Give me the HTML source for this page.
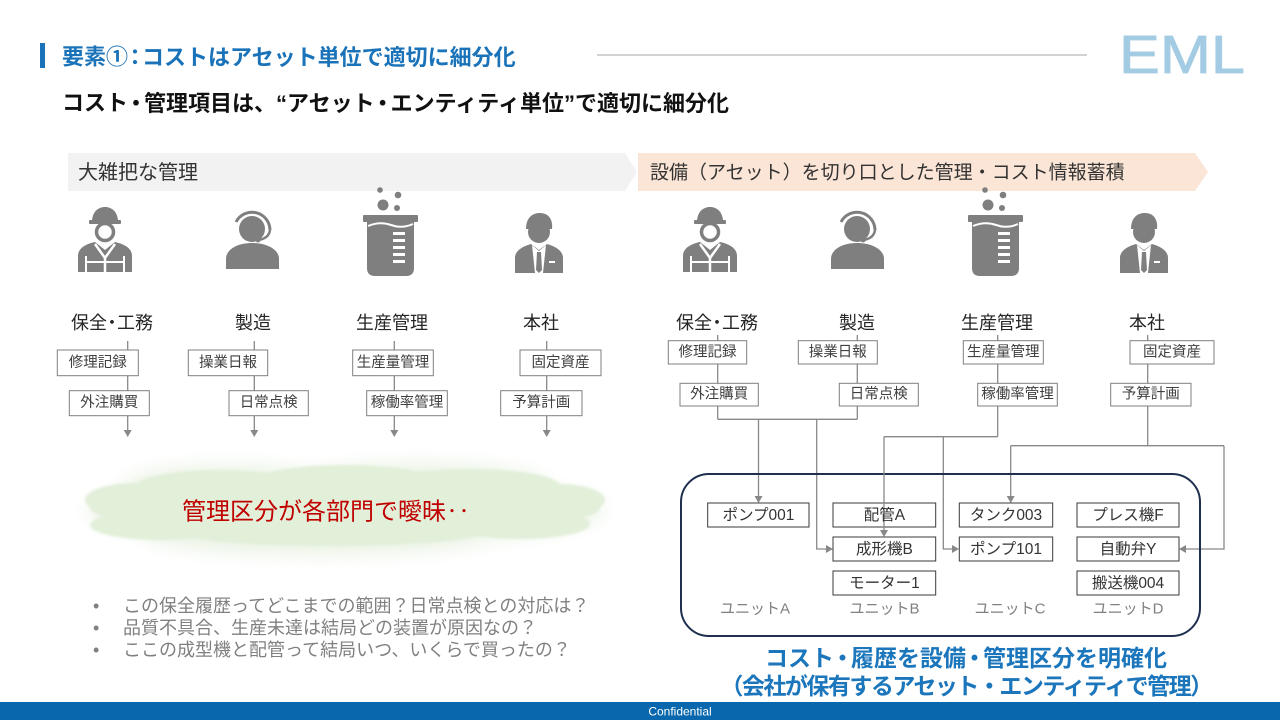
<!DOCTYPE html>
<html><head><meta charset="utf-8">
<style>
html,body{margin:0;padding:0;background:#fff;}
svg{display:block;}
text{font-family:"Liberation Sans","Noto Sans CJK JP",sans-serif;}
</style></head>
<body>
<svg width="1280" height="720" viewBox="0 0 1280 720" xmlns="http://www.w3.org/2000/svg">
<defs>
  <filter id="glow" x="-20%" y="-60%" width="140%" height="220%"><feGaussianBlur stdDeviation="9"/></filter>
  <filter id="soft" x="-10%" y="-30%" width="120%" height="160%"><feGaussianBlur stdDeviation="1.2"/></filter>
</defs>

<!-- Title -->
<rect x="40" y="43" width="5" height="25" fill="#1a73b9"/>
<text x="62" y="57" dominant-baseline="central" font-size="22" font-weight="bold" fill="#1a73b9">要素①<tspan dx="-4">：</tspan><tspan dx="-4">コストはアセット単位で適切に細分化</tspan></text>
<line x1="597" y1="55" x2="1087" y2="55" stroke="#a6a6a6" stroke-width="1"/>
<text x="1119" y="73" font-size="54" fill="#a3cbe3" stroke="#a3cbe3" stroke-width="0.8" textLength="126" lengthAdjust="spacingAndGlyphs">EML</text>
<text x="62" y="103" dominant-baseline="central" font-size="22" font-weight="bold" fill="#111">コスト<tspan dx="-3">・</tspan><tspan dx="-3">管理項目は、“アセット</tspan><tspan dx="-3">・</tspan><tspan dx="-3">エンティティ単位”で適切に細分化</tspan></text>

<!-- Banners -->
<polygon points="68,153 625,153 637,172 625,191 68,191" fill="#f2f2f2"/>
<text x="78" y="173" dominant-baseline="central" font-size="20" fill="#333">大雑把な管理</text>
<polygon points="638,153 1195,153 1208,172 1195,191 638,191" fill="#fbe5d6"/>
<text x="650" y="173" dominant-baseline="central" font-size="19" fill="#333">設備（アセット）を切り口とした管理・コスト情報蓄積</text>

<!-- Icons left -->
<g fill="#7f7f7f">
  <path d="M92,222 C92,212 98,207 105,207 C112,207 118,212 118,222 Z"/>
  <rect x="89" y="220" width="32" height="4" rx="1"/>
  <circle cx="105" cy="232" r="8.5" fill="#fff" stroke="#7f7f7f" stroke-width="3.5"/>
  <path d="M78,272 V256 C78,248 86,244 95,242 L105,250 L115,242 C124,244 132,248 132,256 V272 Z"/>
  <path d="M95,244 L105,258 L115,244" fill="none" stroke="#fff" stroke-width="2.5"/>
  <line x1="105" y1="258" x2="105" y2="272" stroke="#fff" stroke-width="2.5"/>
  <line x1="86" y1="262" x2="124" y2="262" stroke="#fff" stroke-width="2"/>
  <line x1="86" y1="256" x2="86" y2="272" stroke="#fff" stroke-width="2"/>
  <line x1="124" y1="256" x2="124" y2="272" stroke="#fff" stroke-width="2"/>
  <circle cx="252" cy="229" r="13"/>
  <path d="M236,222 A18,18 0 0 1 270,230" fill="none" stroke="#7f7f7f" stroke-width="3"/>
  <path d="M270,230 Q269,238 259,240" fill="none" stroke="#7f7f7f" stroke-width="2.5"/>
  <circle cx="258" cy="240" r="2.5"/>
  <path d="M226,269 V259 C226,249 238,243 252,243 C266,243 279,249 279,259 V269 Z"/>
  <circle cx="380" cy="190" r="2.8"/>
  <circle cx="398" cy="195" r="3.3"/>
  <circle cx="383" cy="205" r="5.5"/>
  <circle cx="397" cy="208" r="3"/>
  <rect x="363" y="215" width="55" height="7" rx="1"/>
  <path d="M367,221 H414 V268 Q414,276 406,276 H375 Q367,276 367,268 Z"/>
  <path d="M368,226 Q380,221 391,225 T413,224" fill="none" stroke="#fff" stroke-width="2"/>
  <g fill="#fff">
    <rect x="393" y="232" width="12" height="3"/>
    <rect x="393" y="239" width="12" height="3"/>
    <rect x="393" y="246" width="12" height="3"/>
    <rect x="393" y="253" width="12" height="3"/>
    <rect x="393" y="260" width="12" height="3"/>
  </g>
  <path d="M526,229 C526,218 532,213 540,213 C549,213 553,220 552,229 Z"/>
  <circle cx="539" cy="232" r="11"/>
  <path d="M515,273 V258 C515,250 524,246 531,244 L539,250 L547,244 C554,246 563,250 563,258 V273 Z"/>
  <path d="M532,245 L539,251 L546,245 L543,273 H535 Z" fill="#fff"/>
  <path d="M537,252 H541 L542,270 L539,273 L536,270 Z"/>
  <rect x="549" y="261" width="6" height="2" fill="#fff"/>
</g>
<!-- Icons right -->
<g fill="#7f7f7f" transform="translate(605,0)">
  <path d="M92,222 C92,212 98,207 105,207 C112,207 118,212 118,222 Z"/>
  <rect x="89" y="220" width="32" height="4" rx="1"/>
  <circle cx="105" cy="232" r="8.5" fill="#fff" stroke="#7f7f7f" stroke-width="3.5"/>
  <path d="M78,272 V256 C78,248 86,244 95,242 L105,250 L115,242 C124,244 132,248 132,256 V272 Z"/>
  <path d="M95,244 L105,258 L115,244" fill="none" stroke="#fff" stroke-width="2.5"/>
  <line x1="105" y1="258" x2="105" y2="272" stroke="#fff" stroke-width="2.5"/>
  <line x1="86" y1="262" x2="124" y2="262" stroke="#fff" stroke-width="2"/>
  <line x1="86" y1="256" x2="86" y2="272" stroke="#fff" stroke-width="2"/>
  <line x1="124" y1="256" x2="124" y2="272" stroke="#fff" stroke-width="2"/>
  <circle cx="252" cy="229" r="13"/>
  <path d="M236,222 A18,18 0 0 1 270,230" fill="none" stroke="#7f7f7f" stroke-width="3"/>
  <path d="M270,230 Q269,238 259,240" fill="none" stroke="#7f7f7f" stroke-width="2.5"/>
  <circle cx="258" cy="240" r="2.5"/>
  <path d="M226,269 V259 C226,249 238,243 252,243 C266,243 279,249 279,259 V269 Z"/>
  <circle cx="380" cy="190" r="2.8"/>
  <circle cx="398" cy="195" r="3.3"/>
  <circle cx="383" cy="205" r="5.5"/>
  <circle cx="397" cy="208" r="3"/>
  <rect x="363" y="215" width="55" height="7" rx="1"/>
  <path d="M367,221 H414 V268 Q414,276 406,276 H375 Q367,276 367,268 Z"/>
  <path d="M368,226 Q380,221 391,225 T413,224" fill="none" stroke="#fff" stroke-width="2"/>
  <g fill="#fff">
    <rect x="393" y="232" width="12" height="3"/>
    <rect x="393" y="239" width="12" height="3"/>
    <rect x="393" y="246" width="12" height="3"/>
    <rect x="393" y="253" width="12" height="3"/>
    <rect x="393" y="260" width="12" height="3"/>
  </g>
  <path d="M526,229 C526,218 532,213 540,213 C549,213 553,220 552,229 Z"/>
  <circle cx="539" cy="232" r="11"/>
  <path d="M515,273 V258 C515,250 524,246 531,244 L539,250 L547,244 C554,246 563,250 563,258 V273 Z"/>
  <path d="M532,245 L539,251 L546,245 L543,273 H535 Z" fill="#fff"/>
  <path d="M537,252 H541 L542,270 L539,273 L536,270 Z"/>
  <rect x="549" y="261" width="6" height="2" fill="#fff"/>
</g>

<!-- Department labels -->
<g font-size="18" fill="#262626" text-anchor="middle" dominant-baseline="central">
  <text x="112" y="323">保全<tspan dx="-4">・</tspan><tspan dx="-4">工務</tspan></text>
  <text x="253" y="323">製造</text>
  <text x="392" y="323">生産管理</text>
  <text x="541" y="323">本社</text>
  <text x="717" y="323">保全<tspan dx="-4">・</tspan><tspan dx="-4">工務</tspan></text>
  <text x="857" y="323">製造</text>
  <text x="997" y="323">生産管理</text>
  <text x="1147" y="323">本社</text>
</g>

<!-- Left connectors -->
<g stroke="#888" stroke-width="1.3" fill="none">
  <line x1="127.7" y1="341" x2="127.7" y2="431"/>
  <line x1="254.3" y1="341" x2="254.3" y2="431"/>
  <line x1="394.3" y1="341" x2="394.3" y2="431"/>
  <line x1="546.7" y1="341" x2="546.7" y2="431"/>
</g>
<g fill="#888">
  <polygon points="123.7,430 131.7,430 127.7,437"/>
  <polygon points="250.3,430 258.3,430 254.3,437"/>
  <polygon points="390.3,430 398.3,430 394.3,437"/>
  <polygon points="542.7,430 550.7,430 546.7,437"/>
</g>

<!-- Right connectors -->
<g stroke="#888" stroke-width="1.3" fill="none">
  <line x1="717.7" y1="335" x2="717.7" y2="419.3"/>
  <line x1="857.3" y1="335" x2="857.3" y2="419.3"/>
  <line x1="717.7" y1="419.3" x2="857.3" y2="419.3"/>
  <line x1="758.5" y1="419.3" x2="758.5" y2="497"/>
  <polyline points="816.7,419.3 816.7,549 827,549"/>
  <line x1="997.7" y1="335" x2="997.7" y2="436.7"/>
  <line x1="884" y1="436.7" x2="997.7" y2="436.7"/>
  <polyline points="943.3,436.7 943.3,549 953,549"/>
  <line x1="1147.7" y1="335" x2="1147.7" y2="445.7"/>
  <line x1="1010.7" y1="445.7" x2="1224" y2="445.7"/>
  <line x1="1010.7" y1="445.7" x2="1010.7" y2="497"/>
  <polyline points="1224,445.7 1224,549 1185,549"/>
</g>
<g fill="#888">
  <polygon points="754.5,496 762.5,496 758.5,503"/>
  <polygon points="826,545 826,553 833,549"/>
  <polygon points="952,545 952,553 959,549"/>
  <polygon points="1006.7,496 1014.7,496 1010.7,503"/>
  <polygon points="1186,545 1186,553 1179,549"/>
</g>

<!-- Top boxes -->
<g fill="#fff" stroke="#7f7f7f" stroke-width="1">
  <rect x="57.3" y="350" width="81" height="25.7"/>
  <rect x="69.3" y="390.7" width="80" height="25"/>
  <rect x="188.3" y="350" width="79.4" height="25.7"/>
  <rect x="229" y="390.7" width="79.3" height="25"/>
  <rect x="352.7" y="350" width="80.6" height="25.7"/>
  <rect x="366.7" y="390.7" width="80.6" height="25"/>
  <rect x="520" y="350" width="81" height="25.7"/>
  <rect x="500.7" y="390.7" width="81.3" height="25"/>

  <rect x="668.3" y="340.7" width="78.4" height="23.3"/>
  <rect x="680" y="383.3" width="78.3" height="22.7"/>
  <rect x="798.3" y="340.7" width="79" height="23.3"/>
  <rect x="839.3" y="383.3" width="79" height="22.7"/>
  <rect x="963.3" y="340.7" width="80" height="23.3"/>
  <rect x="977.7" y="383.3" width="79.6" height="22.7"/>
  <rect x="1130" y="340.7" width="84" height="23.3"/>
  <rect x="1110.7" y="383.3" width="80.3" height="22.7"/>
</g>
<g font-size="14.5" fill="#404040" text-anchor="middle" dominant-baseline="central">
  <text x="97.8" y="363">修理記録</text>
  <text x="109.3" y="403.2">外注購買</text>
  <text x="228" y="363">操業日報</text>
  <text x="268.7" y="403.2">日常点検</text>
  <text x="393" y="363">生産量管理</text>
  <text x="407" y="403.2">稼働率管理</text>
  <text x="560.5" y="363">固定資産</text>
  <text x="541.3" y="403.2">予算計画</text>

  <text x="707.5" y="352.3">修理記録</text>
  <text x="719.2" y="394.6">外注購買</text>
  <text x="837.8" y="352.3">操業日報</text>
  <text x="878.8" y="394.6">日常点検</text>
  <text x="1003.3" y="352.3">生産量管理</text>
  <text x="1017.5" y="394.6">稼働率管理</text>
  <text x="1172" y="352.3">固定資産</text>
  <text x="1150.8" y="394.6">予算計画</text>
</g>

<!-- Unit container -->
<rect x="681" y="474" width="519" height="162" rx="28" ry="28" fill="none" stroke="#1f2f4f" stroke-width="2"/>
<g fill="#fff" stroke="#3a3a3a" stroke-width="1">
  <rect x="707.7" y="503" width="101.3" height="24"/>
  <rect x="833" y="503" width="102.7" height="24"/>
  <rect x="833" y="537" width="102.7" height="24"/>
  <rect x="833" y="571" width="102.7" height="24"/>
  <rect x="959.3" y="503" width="93.4" height="24"/>
  <rect x="959.3" y="537" width="93.4" height="24"/>
  <rect x="1077" y="503" width="102" height="24"/>
  <rect x="1077" y="537" width="102" height="24"/>
  <rect x="1077" y="571" width="102" height="24"/>
</g>
<line x1="884" y1="436.7" x2="884" y2="531" stroke="#888" stroke-width="1.3"/>
<polygon points="880,530 888,530 884,537" fill="#888"/>
<g font-size="15.5" fill="#333" text-anchor="middle" dominant-baseline="central">
  <text x="758.4" y="515.5">ポンプ001</text>
  <text x="884.4" y="515.5">配管A</text>
  <text x="884.4" y="549.5">成形機B</text>
  <text x="884.4" y="583.5">モーター1</text>
  <text x="1006" y="515.5">タンク003</text>
  <text x="1006" y="549.5">ポンプ101</text>
  <text x="1128" y="515.5">プレス機F</text>
  <text x="1128" y="549.5">自動弁Y</text>
  <text x="1128" y="583.5">搬送機004</text>
</g>
<g font-size="15" fill="#808080" text-anchor="middle" dominant-baseline="central">
  <text x="755" y="609">ユニットA</text>
  <text x="884.5" y="609">ユニットB</text>
  <text x="1010" y="609">ユニットC</text>
  <text x="1128" y="609">ユニットD</text>
</g>
<g font-size="23" font-weight="bold" fill="#1b76bb" text-anchor="middle" dominant-baseline="central">
  <text x="966" y="658">コスト<tspan dx="-3">・</tspan><tspan dx="-3">履歴を設備</tspan><tspan dx="-3">・</tspan><tspan dx="-3">管理区分を明確化</tspan></text>
  <text x="966" y="686" letter-spacing="-1.5">（会社が保有するアセット・エンティティで管理）</text>
</g>

<!-- Cloud -->
<g filter="url(#glow)" fill="#e6f0df" opacity="0.85">
  <ellipse cx="345" cy="510" rx="258" ry="34"/>
  <ellipse cx="230" cy="486" rx="105" ry="20"/>
  <ellipse cx="420" cy="484" rx="125" ry="20"/>
  <ellipse cx="320" cy="534" rx="175" ry="20"/>
</g>
<g filter="url(#soft)" fill="#e2efd9">
  <ellipse cx="345" cy="508" rx="255" ry="26"/>
  <ellipse cx="135" cy="500" rx="50" ry="17"/>
  <ellipse cx="220" cy="487" rx="85" ry="17"/>
  <ellipse cx="345" cy="481" rx="90" ry="16"/>
  <ellipse cx="470" cy="486" rx="90" ry="17"/>
  <ellipse cx="560" cy="500" rx="45" ry="16"/>
  <ellipse cx="160" cy="525" rx="70" ry="15"/>
  <ellipse cx="330" cy="530" rx="160" ry="16"/>
  <ellipse cx="520" cy="524" rx="70" ry="15"/>
</g>
<text x="326" y="512" text-anchor="middle" dominant-baseline="central" font-size="24" fill="#c00000">管理区分が各部門で曖昧‥</text>

<!-- Bullets -->
<g font-size="18" fill="#808080">
  <text x="93" y="606" dominant-baseline="central">•</text>
  <text x="123" y="606" dominant-baseline="central">この保全履歴ってどこまでの範囲？日常点検との対応は？</text>
  <text x="93" y="628" dominant-baseline="central">•</text>
  <text x="123" y="628" dominant-baseline="central">品質不具合、生産未達は結局どの装置が原因なの？</text>
  <text x="93" y="650" dominant-baseline="central">•</text>
  <text x="123" y="650" dominant-baseline="central">ここの成型機と配管って結局いつ、いくらで買ったの？</text>
</g>

<!-- Footer -->
<rect x="0" y="702" width="1280" height="18" fill="#0867ad"/>
<text x="680" y="711.5" text-anchor="middle" dominant-baseline="central" font-size="12" fill="#fff">Confidential</text>
</svg>
</body></html>
